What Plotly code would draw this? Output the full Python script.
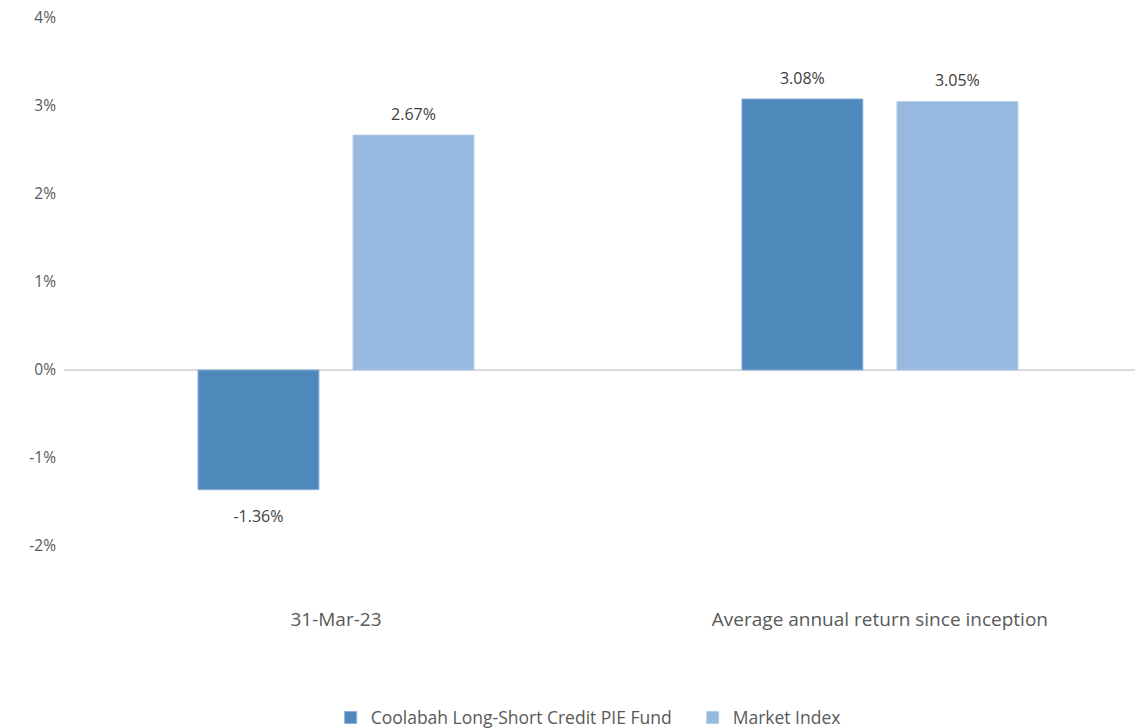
import plotly.graph_objects as go

categories = ["31-Mar-23", "Average annual return since inception"]
fund_name = "Coolabah Long-Short Credit PIE Fund"
index_name = "Market Index"
fund_values = [-1.36, 3.08]
index_values = [2.67, 3.05]
tick_vals = [-2, -1, 0, 1, 2, 3, 4]
tick_text = ["-2%", "-1%", "0%", "1%", "2%", "3%", "4%"]

FONT = "Open Sans, Calibri, Arial, sans-serif"
TXT = "#595959"


def labels(vals):
    out = []
    for v in vals:
        s = f"<span style='font-size:16px'>{v:.2f}%</span>"
        out.append(s + "<br> " if v >= 0 else " <br> <br>" + s)
    return out


fig = go.Figure()
fig.add_trace(go.Bar(
    name=fund_name, x=categories, y=fund_values,
    marker=dict(color="#4F89BC", line=dict(color="#8DB1D9", width=1)),
    text=labels(fund_values), textposition="outside",
    textfont=dict(family=FONT, size=8, color="#404040"), cliponaxis=False,
    hoverinfo="skip",
))
fig.add_trace(go.Bar(
    name=index_name, x=categories, y=index_values,
    marker=dict(color="#97B9E0", line=dict(color="#B5CDEA", width=1)),
    text=labels(index_values), textposition="outside",
    textfont=dict(family=FONT, size=8, color="#404040"), cliponaxis=False,
    hoverinfo="skip",
))

fig.update_layout(
    width=1127, height=728,
    margin=dict(l=56, r=0, t=10, b=190, autoexpand=False),
    paper_bgcolor="white", plot_bgcolor="white",
    barmode="group", bargap=0.43, bargroupgap=0.22,
    font=dict(family=FONT, size=15, color=TXT),
    showlegend=True,
    legend=dict(orientation="h", x=0.249, xanchor="left", y=-0.325, yanchor="middle",
                font=dict(family=FONT, size=17.5, color=TXT), itemwidth=30,
                entrywidth=317, entrywidthmode="pixels",
                traceorder="normal"),
)
fig.update_yaxes(
    range=[-2, 4], tickvals=tick_vals, ticktext=tick_text,
    showgrid=False, zeroline=True, zerolinecolor="#D9D9D9", zerolinewidth=1.5,
    showline=False, ticks="", ticklabelstandoff=7, automargin=False,
    ticklabeloverflow="allow",
    tickfont=dict(family=FONT, size=15.5, color=TXT), fixedrange=True,
)
fig.update_xaxes(
    range=[-0.5, 1.469],
    showgrid=False, showline=False, ticks="", ticklabelstandoff=60, automargin=False,
    tickfont=dict(family=FONT, size=19, color=TXT), fixedrange=True,
)

fig.write_html("out.html")
